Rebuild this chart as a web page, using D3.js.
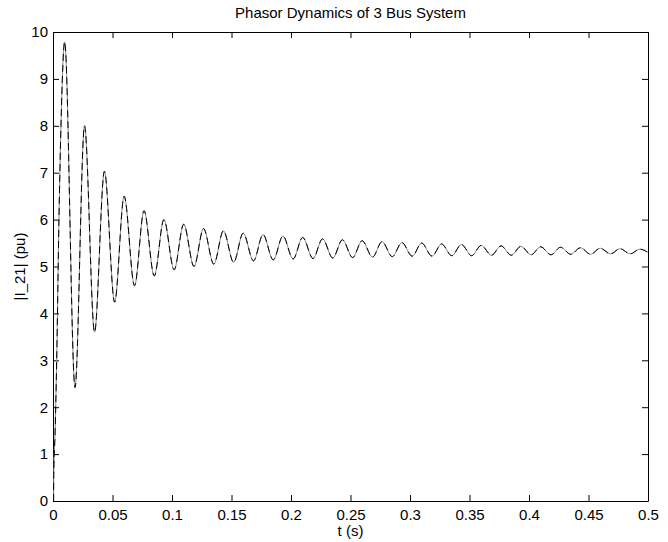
<!DOCTYPE html>
<html>
<head>
<meta charset="utf-8">
<script src="https://cdn.jsdelivr.net/npm/d3@7"></script>
<style>
  body { margin: 0; background: #fff; }
  text { font-family: "Liberation Sans", Arial, Helvetica, sans-serif; }
</style>
</head>
<body>
<div id="chart"></div>
<script>
// values: start of the transient, then peaks and troughs
var riseT = [0.0005, 0.0006, 0.0018, 0.0031, 0.0050, 0.0067];
var riseV = [0.0, 0.5, 1.5, 3.0, 6.0, 8.0];

var peakT = [0.0098, 0.0265, 0.0432, 0.0598, 0.0765, 0.0932, 0.1098, 0.1265, 0.1432, 0.1598,
             0.1765, 0.1932, 0.2098, 0.2265, 0.2432, 0.2598, 0.2765, 0.2932, 0.3098, 0.3265,
             0.3432, 0.3598, 0.3765, 0.3932, 0.4098, 0.4265, 0.4432, 0.4598, 0.4765, 0.4932];
var peakV = [9.79, 8.00, 7.03, 6.50, 6.19, 6.00, 5.90, 5.81, 5.76, 5.71,
             5.68, 5.65, 5.62, 5.59, 5.57, 5.55, 5.53, 5.51, 5.50, 5.48,
             5.47, 5.45, 5.44, 5.43, 5.42, 5.41, 5.40, 5.39, 5.38, 5.37];

var troughT = [0.0185, 0.0349, 0.0518, 0.0685, 0.0851, 0.1018, 0.1185, 0.1351, 0.1518, 0.1685,
               0.1851, 0.2018, 0.2185, 0.2351, 0.2518, 0.2685, 0.2851, 0.3018, 0.3185, 0.3351,
               0.3518, 0.3685, 0.3851, 0.4018, 0.4185, 0.4351, 0.4518, 0.4685, 0.4851];
var troughV = [2.42, 3.60, 4.24, 4.59, 4.80, 4.93, 5.00, 5.05, 5.09, 5.12,
               5.14, 5.16, 5.17, 5.18, 5.19, 5.20, 5.21, 5.22, 5.22, 5.23,
               5.23, 5.24, 5.24, 5.25, 5.25, 5.26, 5.26, 5.27, 5.27];

var endT = [0.5];
var endV = [5.30];

var xTicks = [0, 0.05, 0.1, 0.15, 0.2, 0.25, 0.3, 0.35, 0.4, 0.45, 0.5];
var yTicks = [0, 1, 2, 3, 4, 5, 6, 7, 8, 9, 10];

// build the point list in time order
var pts = [];
riseT.forEach(function(t, i) { pts.push([t, riseV[i]]); });
peakT.forEach(function(t, i) { pts.push([t, peakV[i]]); });
troughT.forEach(function(t, i) { pts.push([t, troughV[i]]); });
endT.forEach(function(t, i) { pts.push([t, endV[i]]); });
pts.sort(function(a, b) { return a[0] - b[0]; });

var W = 668, H = 542;
var margin = {top: 32, right: 20, bottom: 41, left: 53},
    width = W - margin.left - margin.right,
    height = H - margin.top - margin.bottom;

var svg = d3.select("#chart")
  .append("svg")
    .attr("width", W)
    .attr("height", H)
  .append("g")
    .attr("transform", "translate(" + margin.left + "," + margin.top + ")");

var x = d3.scaleLinear().domain([0, 0.5]).range([0, width]);
var y = d3.scaleLinear().domain([0, 10]).range([height, 0]);

var fmt = function(d) { return d3.format("~g")(d); };

// bottom + left with labels, top + right just inward ticks
svg.append("g")
  .attr("transform", "translate(0," + height + ")")
  .call(d3.axisBottom(x).tickValues(xTicks).tickFormat(fmt).tickSizeInner(-6).tickSizeOuter(0).tickPadding(8));
svg.append("g")
  .call(d3.axisLeft(y).tickValues(yTicks).tickFormat(fmt).tickSizeInner(-6).tickSizeOuter(0).tickPadding(5));
svg.append("g")
  .call(d3.axisTop(x).tickValues(xTicks).tickFormat("").tickSizeInner(-6).tickSizeOuter(0));
svg.append("g")
  .attr("transform", "translate(" + width + ",0)")
  .call(d3.axisRight(y).tickValues(yTicks).tickFormat("").tickSizeInner(-6).tickSizeOuter(0));

svg.selectAll(".tick text")
  .style("font-size", "15px")
  .style("font-family", "'Liberation Sans', Arial, sans-serif")
  .attr("fill", "#000");
svg.selectAll(".domain, .tick line").attr("stroke", "#000");

var line = d3.line()
  .x(function(d) { return x(d[0]); })
  .y(function(d) { return y(d[1]); })
  .curve(d3.curveMonotoneX);

// two overlapping traces: grey solid and black dashed
svg.append("path")
  .datum(pts)
  .attr("fill", "none")
  .attr("stroke", "#8a8a8a")
  .attr("stroke-width", 1)
  .attr("d", line);
svg.append("path")
  .datum(pts)
  .attr("fill", "none")
  .attr("stroke", "#000")
  .attr("stroke-width", 1)
  .attr("stroke-dasharray", "7,4")
  .attr("d", line);

// title and axis labels
svg.append("text")
  .attr("x", width / 2)
  .attr("y", -14)
  .attr("text-anchor", "middle")
  .style("font-size", "15px")
  .text("Phasor Dynamics of 3 Bus System");

svg.append("text")
  .attr("x", width / 2)
  .attr("y", height + 35)
  .attr("text-anchor", "middle")
  .style("font-size", "15px")
  .text("t (s)");

svg.append("text")
  .attr("transform", "rotate(-90)")
  .attr("x", -height / 2)
  .attr("y", -28)
  .attr("text-anchor", "middle")
  .style("font-size", "15px")
  .text("|I_21| (pu)");
</script>
</body>
</html>
